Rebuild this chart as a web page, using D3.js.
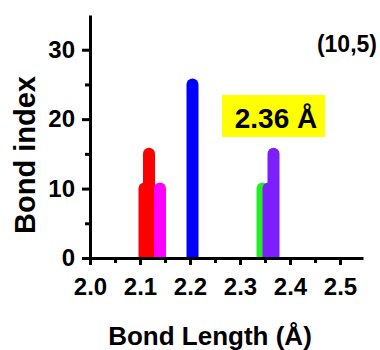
<!DOCTYPE html>
<html>
<head><meta charset="utf-8">
<style>
  body { margin: 0; background: #fff; }
  text { font-family: "Liberation Sans", Arial, sans-serif; font-weight: bold; }
</style>
</head>
<body>
<script src="https://d3js.org/d3.v7.min.js"></script>
<script>
// each bar is one bond, overlapping bars give the stepped look
var bondLengths = [2.109, 2.118, 2.14, 2.205, 2.345, 2.357, 2.367];
var bondIndex = [10, 15, 10, 25, 10, 10, 15];
var barColors = ['#ff0000', '#ff0000', '#ff00ff', '#0000ff', '#22ee22', '#7b1fff', '#7b1fff'];
var xTicks = [2.0, 2.1, 2.2, 2.3, 2.4, 2.5];
var xMinor = [2.05, 2.15, 2.25, 2.35, 2.45];
var yTicks = [0, 10, 20, 30];
var yMinor = [5, 15, 25];

var width = 380, height = 350;

var svg = d3.select('body').append('svg')
    .attr('width', width)
    .attr('height', height);

var x = d3.scaleLinear().domain([2.0, 2.546]).range([90, 363]);
var y = d3.scaleLinear().domain([0, 35]).range([258, 15]);

// clip bars at the x axis so the round cap only shows on top
svg.append('clipPath').attr('id', 'plotclip')
  .append('rect').attr('x', 90).attr('y', 0).attr('width', 280).attr('height', y(0));

var bars = bondLengths.map(function(d, i) { return {len: d, val: bondIndex[i], color: barColors[i]}; });

svg.append('g').attr('clip-path', 'url(#plotclip)')
  .selectAll('line')
  .data(bars)
  .enter().append('line')
    .attr('x1', d => x(d.len))
    .attr('x2', d => x(d.len))
    .attr('y1', y(0) + 10)
    .attr('y2', d => y(d.val))
    .attr('stroke', d => d.color)
    .attr('stroke-width', 12)
    .attr('stroke-linecap', 'round');

// x axis
svg.append('g').attr('transform', 'translate(0,' + y(0) + ')')
  .call(d3.axisBottom(x).tickValues(xTicks).tickFormat(d3.format('.1f')).tickSize(7).tickPadding(13).tickSizeOuter(0));
svg.append('g').attr('transform', 'translate(0,' + y(0) + ')')
  .call(d3.axisBottom(x).tickValues(xMinor).tickFormat('').tickSize(5))
  .select('.domain').remove();

// y axis
svg.append('g').attr('transform', 'translate(' + x(2.0) + ',0)')
  .call(d3.axisLeft(y).tickValues(yTicks).tickSize(8).tickPadding(7).tickSizeOuter(0));
svg.append('g').attr('transform', 'translate(' + x(2.0) + ',0)')
  .call(d3.axisLeft(y).tickValues(yMinor).tickFormat('').tickSize(5))
  .select('.domain').remove();

svg.selectAll('.domain').attr('stroke', '#000').attr('stroke-width', 3);
svg.selectAll('.tick line').attr('stroke', '#000').attr('stroke-width', 3);
svg.selectAll('.tick text')
  .attr('fill', '#000')
  .style('font-size', '24px')
  .style('font-family', '"Liberation Sans", Arial, sans-serif')
  .style('font-weight', 'bold');

// axis titles
svg.append('text')
  .attr('x', 210).attr('y', 345)
  .attr('text-anchor', 'middle')
  .style('font-size', '26px')
  .text('Bond Length (Å)');

svg.append('text')
  .attr('transform', 'translate(35,155) rotate(-90)')
  .attr('text-anchor', 'middle')
  .style('font-size', '29px')
  .text('Bond index');

// annotations
svg.append('text')
  .attr('x', 377).attr('y', 52)
  .attr('text-anchor', 'end')
  .style('font-size', '23px')
  .text('(10,5)');

svg.append('rect')
  .attr('x', 222).attr('y', 95)
  .attr('width', 103).attr('height', 42)
  .attr('fill', '#ffff00');
svg.append('text')
  .attr('x', 276).attr('y', 128)
  .attr('text-anchor', 'middle')
  .style('font-size', '28px')
  .text('2.36 Å');
</script>
</body>
</html>
